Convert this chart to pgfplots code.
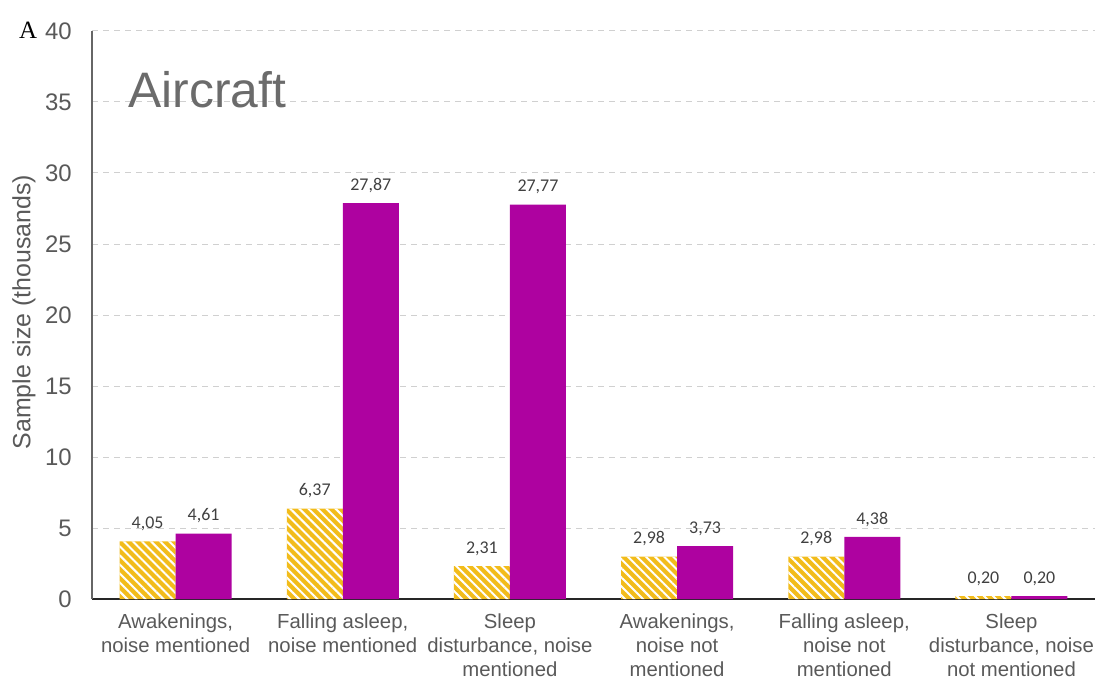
\documentclass[border=0pt]{standalone}
\usepackage{pgfplots}
\pgfplotsset{compat=1.18}
\usetikzlibrary{patterns.meta,calc}
\usepackage{fontspec}
\setmainfont{Liberation Sans}
\newfontfamily\calib{Carlito}
\newfontfamily\timesf{Liberation Serif}
\definecolor{ygold}{HTML}{F2BC1B}
\definecolor{mpurple}{HTML}{AE02A0}
\definecolor{tgray}{HTML}{595959}
\definecolor{lgray}{HTML}{404040}
\definecolor{ggray}{HTML}{D0D0D0}
\begin{document}
\begin{tikzpicture}
\begin{axis}[
  scale only axis, width=501.5bp, height=284bp,
  ymin=0, ymax=40, xmin=-0.5, xmax=5.5,
  ytick={0,5,...,40},
  xtick={0,...,5},
  xticklabels={{Awakenings,\\noise mentioned},{Falling asleep,\\noise mentioned},{Sleep\\disturbance, noise\\mentioned},{Awakenings,\\noise not\\mentioned},{Falling asleep,\\noise not\\mentioned},{Sleep\\disturbance, noise\\not mentioned}},
  /pgf/number format/assume math mode=true,
  xticklabel style={align=center, font=\fontsize{10.2}{12.2}\selectfont, text=tgray, anchor=north, inner sep=0pt, yshift=-7bp},
  yticklabel style={font=\fontsize{12}{14}\selectfont, text=tgray, anchor=east, inner sep=0pt, xshift=-10bp},
  major tick length=0pt,
  axis x line*=bottom, axis y line*=left,
  x axis line style={draw=black!85, line width=0.8bp},
  y axis line style={draw=black!60, line width=0.8bp},
  ymajorgrids,
  grid style={draw=ggray, dash pattern=on 3bp off 2.5bp, line width=0.5bp},
  ybar=0pt, bar width=28bp,
  nodes near coords={\pgfmathprintnumber[fixed, fixed zerofill, precision=2, use comma, assume math mode=true]{\pgfplotspointmeta}},
  every node near coord/.append style={font=\calib\fontsize{9}{10}\selectfont, text=lgray, anchor=south, inner sep=0pt, yshift=5bp},
  clip=false,
]
\addplot[fill=ygold, draw=none, postaction={pattern={Lines[angle=-45,distance=3.2bp,line width=1bp]}, pattern color=white}]
  coordinates {(0,4.05) (1,6.37) (2,2.31) (3,2.98) (4,2.98) (5,0.20)};
\addplot[fill=mpurple, draw=none]
  coordinates {(0,4.61) (1,27.87) (2,27.77) (3,3.73) (4,4.38) (5,0.20)};
\coordinate (SW) at (rel axis cs:0,0);
\coordinate (NE) at (rel axis cs:1,1);
\coordinate (NW) at (rel axis cs:0,1);
\end{axis}
\node[anchor=base west, font=\fontsize{25}{30}\selectfont, text=black!58, inner sep=0pt] at ($(NW)+(18bp,-38.5bp)$) {Aircraft};
\node[rotate=90, font=\fontsize{12.5}{14}\selectfont, text=tgray] at ($(SW)!0.505!(NW)+(-34bp,0)$) {Sample size (thousands)};
\node[font=\timesf\fontsize{12.5}{14}\selectfont, text=black] at ($(NW)+(-32bp,0.5bp)$) {A};
\pgfresetboundingbox
\path ($(SW)+(-46bp,-40.5bp)$) rectangle ($(NE)+(1bp,15.5bp)$);
\end{tikzpicture}
\end{document}
